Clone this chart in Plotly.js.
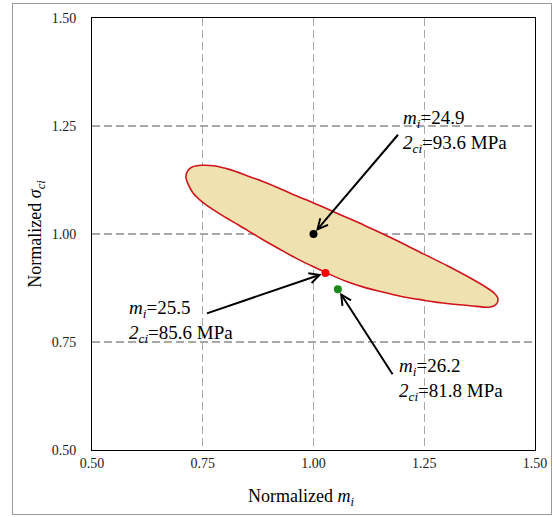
<!DOCTYPE html>
<html>
<head>
<meta charset="utf-8">
<script src="https://cdn.plot.ly/plotly-3.0.1.min.js"></script>
<style>
  html, body { margin: 0; padding: 0; background: #fff; }
  #wrap { position: relative; width: 553px; height: 517px; }
  #chart { position: absolute; left: 0; top: 0; width: 553px; height: 517px; }
  #frame { position: absolute; left: 12px; top: 3px; width: 538px; height: 510px;
           border: 1px solid #9a9a9a; pointer-events: none; }
</style>
</head>
<body>
<div id="wrap">
  <div id="chart"></div>
  <div id="frame"></div>
</div>
<script>
// Confidence region outline (normalized m_i, normalized sigma_ci):
// upper edge left to right, then lower edge back to the left tip
const ellipseX = [0.712, 0.716, 0.726, 0.748, 0.774, 0.812, 0.850, 0.887, 0.925, 0.9625,
                  1.000, 1.038, 1.075, 1.113, 1.151, 1.196, 1.248, 1.301, 1.354, 1.392,
                  1.408, 1.416, 1.413, 1.399, 1.354, 1.301, 1.248, 1.196, 1.151, 1.113,
                  1.075, 1.038, 1.000, 0.9625, 0.925, 0.887, 0.850, 0.812, 0.774, 0.748,
                  0.728, 0.718, 0.712];
const ellipseY = [1.132, 1.146, 1.155, 1.159, 1.158, 1.149, 1.135, 1.121, 1.105, 1.088,
                  1.072, 1.055, 1.038, 1.021, 1.003, 0.981, 0.954, 0.927, 0.898, 0.875,
                  0.863, 0.852, 0.838, 0.831, 0.834, 0.839, 0.847, 0.856, 0.867, 0.877,
                  0.890, 0.906, 0.924, 0.943, 0.964, 0.986, 1.009, 1.032, 1.056, 1.075,
                  1.095, 1.113, 1.132];

// Parameter estimates (normalized)
const pointX = [1.000, 1.027, 1.055];
const pointY = [1.000, 0.910, 0.872];
const pointColors = ['#000000', '#ff0000', '#1a8a1a'];

// Labels for each estimate
const mValues = ['24.9', '25.5', '26.2'];
const sigmaValues = ['93.6', '85.6', '81.8'];

// Axis ticks
const tickValues = [0.50, 0.75, 1.00, 1.25, 1.50];
const tickLabels = ['0.50', '0.75', '1.00', '1.25', '1.50'];

const serif = '"Liberation Serif", "Times New Roman", serif';

const traces = [
  {
    x: ellipseX, y: ellipseY,
    type: 'scatter', mode: 'lines',
    fill: 'toself', fillcolor: '#efe2b0',
    line: { color: '#d0141c', width: 1.6, shape: 'spline', smoothing: 0.9 },
    hoverinfo: 'skip', showlegend: false
  }
];
pointX.forEach((px, i) => {
  traces.push({
    x: [px], y: [pointY[i]],
    type: 'scatter', mode: 'markers',
    marker: { color: pointColors[i], size: 8 },
    showlegend: false
  });
});

function labelText(i) {
  return '<i>m</i><sub><i>i</i></sub>=' + mValues[i] +
         '<br><i>2</i><sub><i>ci</i></sub>=' + sigmaValues[i] + ' MPa';
}

// Arrow tail offsets (px) and label anchors
const arrowOffsets = [[86, -101], [-120, 41], [56, 87]];
const labelPos = [[1.198, 1.238], [0.578, 0.798], [1.188, 0.664]];

const annotations = [];
pointX.forEach((px, i) => {
  annotations.push({
    x: px, y: pointY[i], xref: 'x', yref: 'y',
    ax: arrowOffsets[i][0], ay: arrowOffsets[i][1],
    text: ' ', font: { size: 1 },
    showarrow: true, arrowhead: 5, arrowsize: 1, arrowwidth: 2,
    arrowcolor: '#000', standoff: 4
  });
  annotations.push({
    x: labelPos[i][0], y: labelPos[i][1], xref: 'x', yref: 'y',
    xanchor: 'left', yanchor: 'middle', align: 'left',
    text: labelText(i), showarrow: false,
    font: { family: serif, size: 19, color: '#000' }
  });
});

// Horizontal axis title
annotations.push({
  x: 0.472, y: -0.111, xref: 'paper', yref: 'paper',
  xanchor: 'center', yanchor: 'middle',
  text: 'Normalized <i>m</i><sub><i>i</i></sub>', showarrow: false,
  font: { family: serif, size: 18, color: '#000' }
});

const axisCommon = {
  range: [0.5, 1.5],
  tickvals: tickValues, ticktext: tickLabels,
  showgrid: true, gridcolor: '#a8a8a8', griddash: '8px,4px', gridwidth: 1.3,
  zeroline: false,
  showline: true, linecolor: '#000', linewidth: 1, mirror: true,
  ticks: '',
  tickfont: { family: serif, size: 14, color: '#222' },
  fixedrange: true
};

const layout = {
  width: 553, height: 517,
  margin: { l: 92, r: 18, t: 18, b: 67 },
  paper_bgcolor: '#fff', plot_bgcolor: '#fff',
  showlegend: false,
  xaxis: Object.assign({}, axisCommon, {
    ticklabelstandoff: 0
  }),
  yaxis: Object.assign({}, axisCommon, {
    ticklabelstandoff: 12,
    title: { text: 'Normalized <i>σ</i><sub><i>ci</i></sub>',
             font: { family: serif, size: 18, color: '#000' }, standoff: 5 }
  }),
  annotations: annotations
};

Plotly.newPlot('chart', traces, layout, { displayModeBar: false, staticPlot: true });
</script>
</body>
</html>
